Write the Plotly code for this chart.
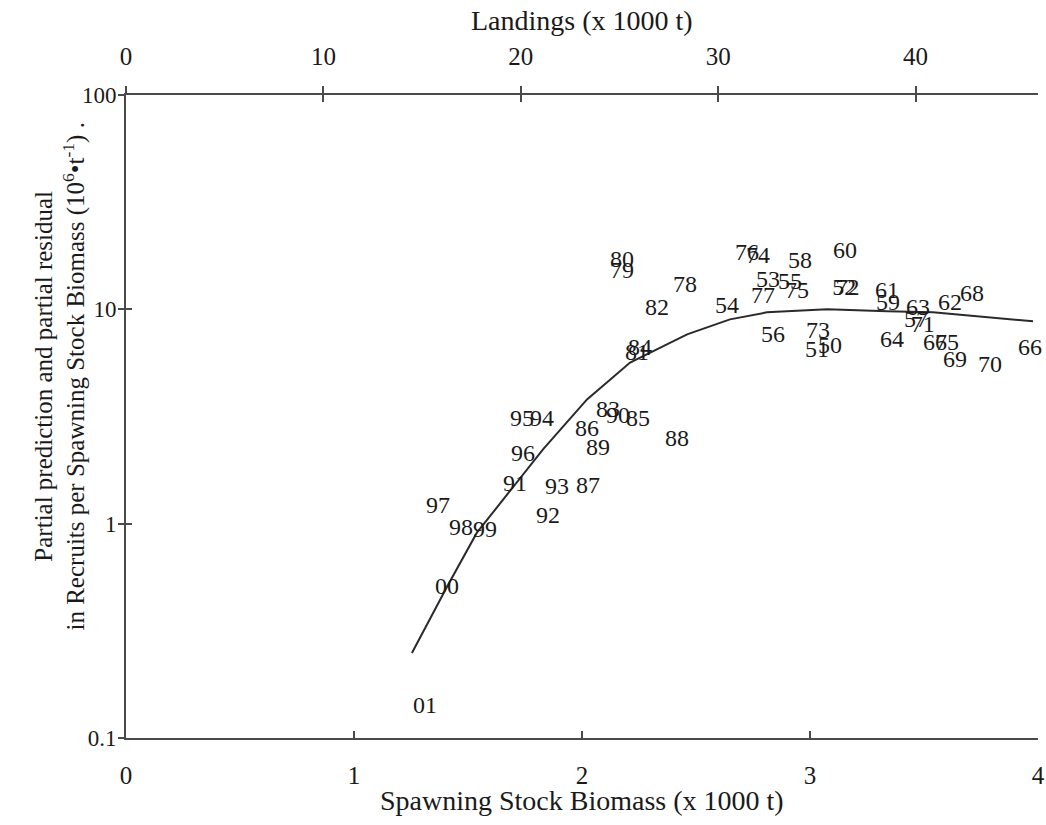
import plotly.graph_objects as go

# Year labels (partial residuals)
years = ["01", "00", "97", "98", "99", "91", "93", "87", "92", "96", "89",
         "95", "94", "86", "83", "90", "85", "88", "84", "81", "80", "79",
         "78", "82", "54", "76", "74", "58", "53", "55", "77", "75", "60",
         "52", "72", "61", "59", "63", "57", "71", "62", "68", "56", "73",
         "51", "50", "64", "67", "65", "69", "70", "66"]
ssb = [1.311, 1.408, 1.368, 1.469, 1.575, 1.706, 1.890, 2.026, 1.851, 1.741, 2.070,
       1.737, 1.825, 2.022, 2.114, 2.158, 2.246, 2.417, 2.254, 2.241, 2.175, 2.175,
       2.452, 2.329, 2.636, 2.724, 2.772, 2.956, 2.816, 2.912, 2.794, 2.943, 3.154,
       3.150, 3.165, 3.338, 3.342, 3.474, 3.465, 3.495, 3.614, 3.711, 2.838, 3.035,
       3.031, 3.088, 3.360, 3.548, 3.601, 3.636, 3.789, 3.965]
rps = [0.140, 0.502, 1.19, 0.94, 0.92, 1.52, 1.47, 1.49, 1.08, 2.10, 2.22,
       3.06, 3.06, 2.75, 3.34, 3.13, 3.06, 2.47, 6.50, 6.16, 16.8, 14.9,
       12.8, 10.0, 10.3, 18.1, 17.5, 16.6, 13.5, 13.3, 11.4, 12.0, 18.5,
       12.4, 12.4, 12.1, 10.6, 10.0, 8.8, 8.4, 10.6, 11.7, 7.48, 7.81,
       6.37, 6.64, 7.08, 6.9, 6.9, 5.71, 5.42, 6.50]

# Partial prediction curve
curve_ssb = [1.254, 1.408, 1.539, 1.719, 1.829, 2.022, 2.211, 2.461, 2.649,
             2.811, 3.075, 3.338, 3.539, 3.978]
curve_pred = [0.249, 0.508, 0.908, 1.57, 2.22, 3.80, 5.65, 7.64, 8.98,
              9.68, 10.0, 9.79, 9.68, 8.79]

x_ticks = [0, 1, 2, 3, 4]
landing_ticks = [0, 10, 20, 30, 40]
landing_range = [0, 46.2]
y_ticks = [0.1, 1, 10, 100]
y_ticktext = ["0.1", "1", "10", "100"]

FONT = "Liberation Serif"
INK = "#1a1a1a"
AX = "#4a4a4a"

fig = go.Figure()
fig.add_trace(go.Scatter(x=curve_ssb, y=curve_pred, mode="lines",
                         line=dict(color="#2a2a2a", width=2),
                         showlegend=False, hoverinfo="skip"))
fig.add_trace(go.Scatter(x=ssb, y=rps, mode="text", text=years,
                         textposition="middle center",
                         textfont=dict(family=FONT, size=24, color=INK),
                         showlegend=False, cliponaxis=False))
# empty traces so that the extra (top / crossing-tick) axes get drawn
fig.add_trace(go.Scatter(x=[], y=[], xaxis="x2", yaxis="y2",
                         showlegend=False, hoverinfo="skip"))
fig.add_trace(go.Scatter(x=[], y=[], xaxis="x3", yaxis="y",
                         showlegend=False, hoverinfo="skip"))

common = dict(showgrid=False, zeroline=False, automargin=False,
              tickwidth=1.5, tickcolor=AX)

fig.update_layout(
    width=1046, height=825,
    margin=dict(l=126, r=8, t=95, b=87),
    paper_bgcolor="white", plot_bgcolor="white",
    font=dict(family=FONT, color=INK),
    xaxis=dict(range=[0, 4], tickvals=x_ticks, ticks="inside", ticklen=7,
               showline=True, linecolor=AX, linewidth=2,
               ticklabelstandoff=14,
               tickfont=dict(family=FONT, size=25, color=INK), **common),
    xaxis2=dict(range=landing_range, tickvals=landing_ticks, overlaying="x",
                side="top", anchor="y2", ticks="outside", ticklen=7,
                showline=True, linecolor=AX, linewidth=2,
                ticklabelstandoff=11,
                tickfont=dict(family=FONT, size=25, color=INK), **common),
    xaxis3=dict(range=landing_range, tickvals=landing_ticks, overlaying="x",
                side="top", anchor="y", ticks="inside", ticklen=7,
                showticklabels=False, showline=False, **common),
    yaxis=dict(type="log", range=[-1, 2], tickvals=y_ticks, ticktext=y_ticktext,
               ticks="outside", ticklen=6, showline=True, linecolor=AX, linewidth=2,
               ticklabelstandoff=-3,
               tickfont=dict(family=FONT, size=23, color=INK), **common),
    yaxis2=dict(type="log", range=[-1, 2], tickvals=y_ticks, overlaying="y",
                side="left", anchor="x2", ticks="inside", ticklen=6,
                showticklabels=False, showline=False, **common),
    annotations=[
        dict(text="Spawning Stock Biomass (x 1000 t)", xref="paper", yref="paper",
             x=0.5, y=0, yshift=-62, xanchor="center", yanchor="middle",
             showarrow=False, font=dict(family=FONT, size=28, color=INK)),
        dict(text="Landings (x 1000 t)", xref="paper", yref="paper",
             x=0.5, y=1, yshift=75, xanchor="center", yanchor="middle",
             showarrow=False, font=dict(family=FONT, size=28, color=INK)),
        dict(text="Partial prediction and partial residual<br>"
                  "in Recruits per Spawning Stock Biomass (10<sup>6</sup>•t<sup>-1</sup>) .",
             xref="paper", yref="paper", x=0, y=0.5, xshift=-66, yshift=40,
             xanchor="center", yanchor="middle", textangle=-90,
             showarrow=False, font=dict(family=FONT, size=25, color=INK)),
    ],
)

fig.write_html(
    "out.html",
    config={"displayModeBar": False},
    post_script="document.body.style.margin='0';"
                "document.body.style.overflow='hidden';"
                "document.documentElement.style.overflow='hidden';",
)
